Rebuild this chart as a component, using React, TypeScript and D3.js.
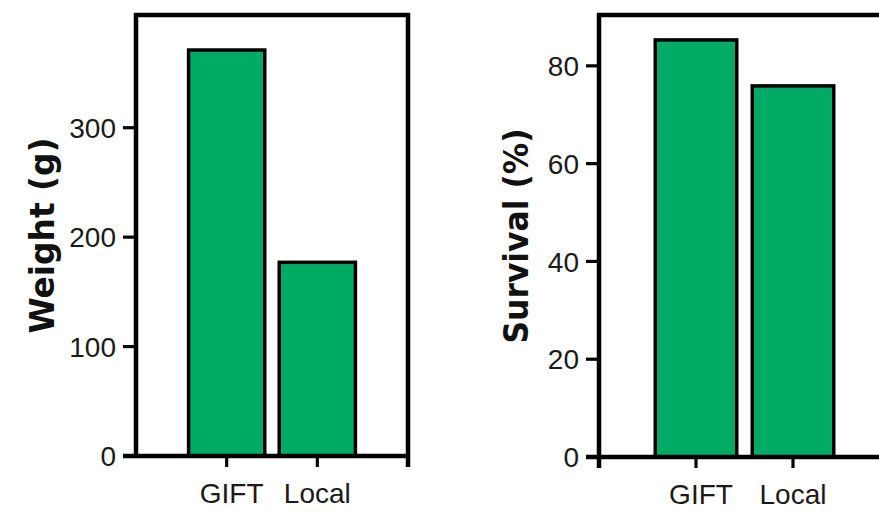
import React from "react";
import * as d3 from "d3";

const categories = ["GIFT", "Local"];
const weightValues = [371, 177];
const survivalValues = [85.3, 75.9];
const weightTicks = [0, 100, 200, 300];
const survivalTicks = [0, 20, 40, 60, 80];

const GREEN = "#00AB66";
const TICK_FONT = "'Liberation Sans', Arial, Helvetica, sans-serif";
const LABEL_FONT = "'DejaVu Sans', Verdana, sans-serif";

type PanelProps = {
  values: number[];
  ticks: number[];
  yMax: number;
  xRange: [number, number];
  yRange: [number, number];
  label: string;
  labelX: number;
  labelLen: number;
  boxRight: boolean;
  tickAtStart: boolean;
  axisEnd: number;
};

function Panel(p: PanelProps) {
  const x = d3.scaleLinear().domain([0, 3]).range(p.xRange);
  const y = d3.scaleLinear().domain([0, p.yMax]).range(p.yRange);
  const [x0, x3] = p.xRange;
  const yBottom = p.yRange[0];
  const yTop = p.yRange[1];
  const barHalf = 0.42;
  const tickLen = 13;
  const pos = categories.map((_, i) => i + 1);
  return (
    <g>
      {categories.map((c, i) => (
        <rect
          key={c}
          x={x(pos[i] - barHalf)}
          y={y(p.values[i])}
          width={x(pos[i] + barHalf) - x(pos[i] - barHalf)}
          height={yBottom - y(p.values[i])}
          fill={GREEN}
          stroke="#000"
          strokeWidth={3.5}
        />
      ))}
      <line x1={x0 - 2} x2={Math.min(x3 + 2, p.axisEnd)} y1={yTop} y2={yTop} stroke="#000" strokeWidth={4.5} />
      <line x1={x0} x2={x0} y1={yTop - 2} y2={p.tickAtStart ? yBottom + 11 : yBottom} stroke="#000" strokeWidth={4.5} />
      {p.boxRight && (
        <line x1={x3} x2={x3} y1={yTop - 2} y2={yBottom + 11} stroke="#000" strokeWidth={4.5} />
      )}
      <line x1={x0 - tickLen} x2={Math.min(x3 + 2, p.axisEnd)} y1={yBottom} y2={yBottom} stroke="#000" strokeWidth={4.5} />
      {p.ticks.map((t) => (
        <g key={t}>
          <line x1={x0 - tickLen} x2={x0} y1={y(t)} y2={y(t)} stroke="#000" strokeWidth={3.2} />
          <text
            x={x0 - tickLen - 7}
            y={y(t)}
            dy="0.36em"
            textAnchor="end"
            fontFamily={TICK_FONT}
            fontSize={28}
            fill="#1a1a1a"
          >
            {t}
          </text>
        </g>
      ))}
      {categories.map((c, i) => (
        <g key={c}>
          <line x1={x(pos[i])} x2={x(pos[i])} y1={yBottom} y2={yBottom + 11} stroke="#000" strokeWidth={3.2} />
          <text
            x={x(pos[i]) + (i === 0 ? 5 : 0)}
            y={yBottom + 47}
            textAnchor="middle"
            fontFamily={TICK_FONT}
            fontSize={28}
            fill="#1a1a1a"
          >
            {c}
          </text>
        </g>
      ))}
      <text
        transform={`translate(${p.labelX},${(yTop + yBottom) / 2}) rotate(-90)`}
        textAnchor="middle"
        dy="0.36em"
        fontFamily={LABEL_FONT}
        fontWeight="bold"
        fontSize={33}
        textLength={p.labelLen}
        lengthAdjust="spacingAndGlyphs"
        fill="#111"
      >
        {p.label}
      </text>
    </g>
  );
}

export default function App() {
  return (
    <svg
      width={879}
      height={518}
      style={{ position: "absolute", left: 0, top: 0, background: "#fff" }}
    >
      <rect x={0} y={0} width={879} height={518} fill="#fff" />
      <Panel
        values={weightValues}
        ticks={weightTicks}
        yMax={403}
        xRange={[136, 408]}
        yRange={[456, 15]}
        label="Weight (g)"
        labelX={42}
        labelLen={196}
        boxRight={true}
        tickAtStart={false}
        axisEnd={879}
      />
      <Panel
        values={survivalValues}
        ticks={survivalTicks}
        yMax={90.4}
        xRange={[599, 890]}
        yRange={[457, 15]}
        label="Survival (%)"
        labelX={516}
        labelLen={215}
        boxRight={false}
        tickAtStart={true}
        axisEnd={879}
      />
    </svg>
  );
}
